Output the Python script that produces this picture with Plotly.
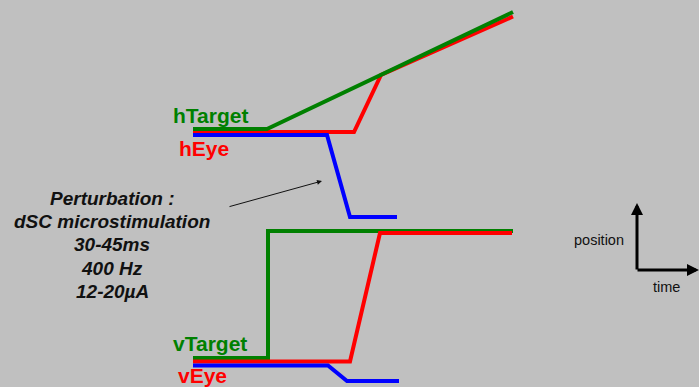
import plotly.graph_objects as go

# ── Colours ──────────────────────────────────────────────────────────────────
BG     = "#C0C0C0"
GREEN  = "#008000"
RED    = "#FF0000"
BLUE   = "#0000FF"
INK    = "#111111"

# ── Traces (pixel-space schematic) ───────────────────────────────────────────
h_target_x = [193, 267, 513]
h_target_y = [129, 129, 12]
h_eye_x    = [193, 354, 381, 513]
h_eye_y    = [132, 132, 75, 16.5]
h_pert_x   = [193, 327, 350, 397]
h_pert_y   = [135, 135, 217, 217]

v_target_x = [193, 268, 268, 513]
v_target_y = [358, 358, 231, 231]
v_eye_x    = [193, 350, 380, 512]
v_eye_y    = [361.5, 361.5, 233, 233]
v_pert_x   = [193, 328, 347, 399]
v_pert_y   = [365.5, 365.5, 381, 381]

stim_lines = ["Perturbation :", "dSC microstimulation", "30-45ms", "400 Hz", "12-20µA"]

fig = go.Figure()

series = [
    (h_eye_x, h_eye_y, RED),
    (h_target_x, h_target_y, GREEN),
    (h_pert_x, h_pert_y, BLUE),
    (v_target_x, v_target_y, GREEN),
    (v_eye_x, v_eye_y, RED),
    (v_pert_x, v_pert_y, BLUE),
]
for xs, ys, col in series:
    fig.add_trace(go.Scatter(
        x=xs, y=ys, mode="lines",
        line=dict(color=col, width=4),
        hoverinfo="skip", showlegend=False,
    ))

ann = []

# trace labels
for txt, x, y, col in [("hTarget", 171, 115, GREEN), ("hEye", 177, 148, RED),
                       ("vTarget", 171, 343, GREEN), ("vEye", 176, 375.5, RED)]:
    ann.append(dict(x=x, y=y, text=f"<b>{txt}</b>", showarrow=False,
                    xanchor="left", yanchor="middle",
                    font=dict(family="Arial, Liberation Sans", size=21, color=col)))

# stimulation text block
for i, line in enumerate(stim_lines):
    ann.append(dict(x=112, y=198 + i * 23.4, text=f"<b><i>{line}</i></b>",
                    showarrow=False, xanchor="center", yanchor="middle",
                    font=dict(family="Arial, Liberation Sans", size=19, color=INK)))

# pointer arrow
ann.append(dict(x=322, y=181, ax=228, ay=207, axref="x", ayref="y",
                xref="x", yref="y", text="", showarrow=True,
                arrowhead=2, arrowsize=1, arrowwidth=1, arrowcolor=INK))

# position / time key
ann.append(dict(x=637, y=203, ax=637, ay=271, axref="x", ayref="y",
                text="", showarrow=True, arrowhead=2, arrowsize=0.8,
                arrowwidth=3, arrowcolor="#000000"))
ann.append(dict(x=699, y=270, ax=636, ay=270, axref="x", ayref="y",
                text="", showarrow=True, arrowhead=2, arrowsize=0.8,
                arrowwidth=3, arrowcolor="#000000"))
ann.append(dict(x=626, y=240, text="position", showarrow=False,
                xanchor="right", yanchor="middle",
                font=dict(family="Arial, Liberation Sans", size=14.5, color=INK)))
ann.append(dict(x=666, y=287, text="time", showarrow=False,
                xanchor="center", yanchor="middle",
                font=dict(family="Arial, Liberation Sans", size=14.5, color=INK)))

fig.update_layout(
    width=699, height=387,
    margin=dict(l=0, r=0, t=0, b=0),
    paper_bgcolor=BG, plot_bgcolor=BG,
    xaxis=dict(range=[0, 699], visible=False, fixedrange=True),
    yaxis=dict(range=[387, 0], visible=False, fixedrange=True),
    annotations=ann,
)

fig.write_html("out.html", config={"displayModeBar": False},
               post_script="document.body.style.margin='0';document.body.style.overflow='hidden';")
